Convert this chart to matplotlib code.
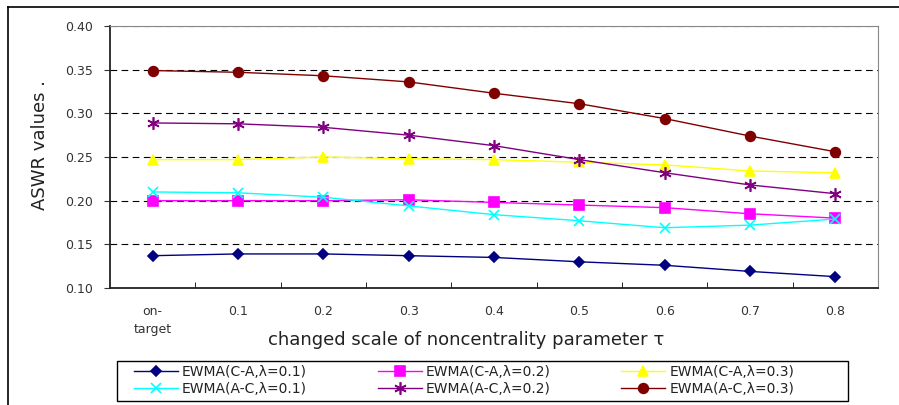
import matplotlib
matplotlib.use("Agg")
import matplotlib.pyplot as plt
from matplotlib.lines import Line2D
from matplotlib.patches import Rectangle
import numpy as np

# categories on the x axis
categories = ["on-\ntarget", "0.1", "0.2", "0.3", "0.4", "0.5", "0.6", "0.7", "0.8"]

# series values
ca_01 = [0.137, 0.139, 0.139, 0.137, 0.135, 0.130, 0.126, 0.119, 0.113]
ca_02 = [0.200, 0.200, 0.200, 0.201, 0.198, 0.195, 0.192, 0.185, 0.180]
ca_03 = [0.247, 0.247, 0.250, 0.248, 0.247, 0.244, 0.241, 0.234, 0.232]
ac_01 = [0.210, 0.209, 0.204, 0.194, 0.184, 0.177, 0.169, 0.172, 0.179]
ac_02 = [0.289, 0.288, 0.284, 0.275, 0.263, 0.247, 0.232, 0.218, 0.208]
ac_03 = [0.349, 0.347, 0.343, 0.336, 0.323, 0.311, 0.294, 0.274, 0.256]

labels = ["EWMA(C-A,λ=0.1)", "EWMA(C-A,λ=0.2)", "EWMA(C-A,λ=0.3)",
          "EWMA(A-C,λ=0.1)", "EWMA(A-C,λ=0.2)", "EWMA(A-C,λ=0.3)"]

plt.rcParams['font.family'] = ['DejaVu Sans']

W, H = 899, 405
fig = plt.figure(figsize=(W / 100, H / 100), dpi=100)
ax = fig.add_axes([110 / W, 1 - 288 / H, 768 / W, 262 / H])

x = np.arange(len(categories))
styles = [
    (ca_01, '#000080', 'D', 5),
    (ca_02, '#ff00ff', 's', 7),
    (ca_03, '#ffff00', '^', 7),
    (ac_01, '#00ffff', 'x', 7),
    (ac_02, '#800080', (6, 2, 0), 9),
    (ac_03, '#800000', 'o', 7),
]
handles = []
for (vals, col, mk, ms), lab in zip(styles, labels):
    h, = ax.plot(x, vals, color=col, marker=mk, markersize=ms, linewidth=1.0,
                 markeredgewidth=1.2, label=lab)
    handles.append(h)

ax.set_xlim(-0.5, len(categories) - 0.5)
ax.set_ylim(0.10, 0.40)
yt = np.arange(0.10, 0.401, 0.05)
ax.set_yticks(yt)
ax.set_yticklabels([f"{v:.2f}" for v in yt], fontsize=9, color='#333333')
for gy in yt[1:]:
    ax.axhline(gy, color='black', linestyle=(0, (6, 4)), linewidth=0.8, zorder=0)

ax.set_xticks(x)
ax.set_xticklabels(categories, fontsize=9, color='#333333', linespacing=1.5)
ax.set_xticks(np.arange(0.5, len(categories) - 0.5, 1), minor=True)
ax.tick_params(axis='x', which='major', length=0, pad=12)
ax.tick_params(axis='x', which='minor', length=4, direction='in', color='black')
ax.tick_params(axis='y', length=4, direction='out', color='#333333', pad=8)

ax.spines['left'].set_color('#222222')
ax.spines['bottom'].set_color('#222222')
ax.spines['left'].set_linewidth(1.3)
ax.spines['bottom'].set_linewidth(1.3)
ax.spines['top'].set_color('#888888')
ax.spines['right'].set_color('#888888')

ax.set_ylabel("ASWR values .", fontsize=13, color='#222222')
ax.yaxis.set_label_coords((40 - 110) / 768, (288 - 145) / 262)
ax.yaxis.label.set_va('center')
ax.set_xlabel("changed scale of noncentrality parameter τ", fontsize=13, color='#222222')
ax.xaxis.set_label_coords((466 - 110) / 768, (288 - 340) / 262)
ax.xaxis.label.set_va('center')

# legend, filled column-wise -> reorder so rows read C-A then A-C
order = [0, 3, 1, 4, 2, 5]
leg = fig.legend([handles[i] for i in order], [labels[i] for i in order], ncol=3,
                 loc='upper left', bbox_to_anchor=(134 / W, 1 - 365 / H),
                 borderaxespad=0, borderpad=0, fontsize=10, frameon=False,
                 handlelength=3.15, handletextpad=0.3, labelspacing=0.2,
                 columnspacing=5.1)
for t in leg.get_texts():
    t.set_color('#222222')
fig.add_artist(Rectangle((117 / W, 1 - 401 / H), (848 - 117) / W, 40 / H,
                         transform=fig.transFigure, fill=False,
                         edgecolor='black', linewidth=1.0))

# outer chart border
fig.add_artist(Line2D([8 / W, 1.0], [1 - 7 / H, 1 - 7 / H], color='black', linewidth=1.2))
fig.add_artist(Line2D([8 / W, 8 / W], [0.0, 1 - 7 / H], color='black', linewidth=1.2))

fig.savefig("out.png", dpi=100)
